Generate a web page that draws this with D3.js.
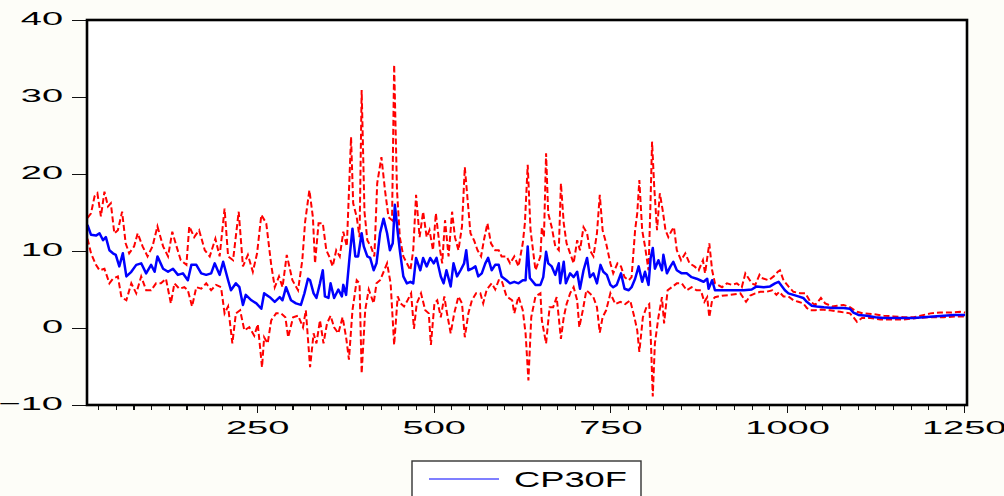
<!DOCTYPE html>
<html>
  <head>
    <meta charset="utf-8">
    <script src="https://d3js.org/d3.v7.min.js"></script>
    <style>
      body { margin: 0; background: #fdfdf8; }
      svg { display: block; font-family: "Liberation Sans", Arial, sans-serif; }
      .axis path.domain { display: none; }
      .axis line { stroke: #111; stroke-width: 1.2; shape-rendering: crispEdges; }
    </style>
  </head>
  <body>
    <script>
      // forecast CP30F and its upper / lower bands, [observation, value]
      var forecast = [[10,13.4],[15,12.1],[22,12.0],[27,12.3],[32,11.4],[36,11.8],[41,10.1],[46,9.7],[50,9.5],[55,8.0],[60,9.7],[65,6.7],[72,7.3],[79,8.2],[86,8.4],[93,7.1],[100,8.2],[105,7.3],[109,9.3],[117,7.7],[124,7.3],[131,7.7],[138,6.9],[145,7.1],[152,6.2],[157,8.2],[164,8.2],[171,7.1],[178,6.9],[185,7.1],[190,8.4],[197,6.9],[202,8.6],[209,6.2],[213,4.9],[220,5.8],[225,5.3],[230,3.0],[234,4.3],[242,3.6],[249,3.2],[256,2.5],[260,4.5],[268,4.0],[275,3.4],[282,4.0],[286,3.6],[291,5.3],[298,3.6],[305,3.2],[312,3.0],[317,4.5],[322,6.4],
        [325,6.2],[330,4.5],[334,3.9],[339,5.8],[343,7.5],[346,4.1],[351,3.9],[354,5.8],[359,3.9],[365,5.0],[370,4.1],[372,5.6],[376,4.3],[381,9.3],[385,12.9],[389,9.3],[393,9.3],[398,12.3],[401,10.6],[406,9.3],[410,9.1],[415,7.5],[419,8.4],[424,12.3],[429,14.2],[434,12.3],[438,10.1],[442,11.0],[445,16.0],[449,12.5],[452,10.1],[457,6.7],[462,5.8],[467,6.0],[471,5.8],[475,9.1],[481,7.5],[485,9.1],[490,8.0],[495,9.1],[500,8.4],[504,9.1],[510,6.7],[514,5.8],[518,7.5],[524,5.4],[528,8.4],[533,6.7],[538,7.5],[543,8.4],[546,10.1],[549,7.5],[554,7.7],[559,8.0],[563,6.7],[568,7.1],[573,8.4],[577,9.1],[582,7.5],[587,8.2],[592,8.2],[596,6.7],[603,6.2],[608,5.8],[614,6.0],[620,5.8],[626,6.2],[630,6.2],[633,10.6],[636,6.5],[644,5.6],[651,5.6],
        [655,6.6],[659,9.9],[662,8.4],[667,8.0],[672,6.9],[677,8.4],[679,5.8],[684,8.6],[687,5.8],[693,7.1],[698,6.6],[703,7.3],[707,5.1],[712,7.5],[717,9.1],[721,6.6],[726,7.1],[731,5.8],[736,8.2],[740,7.3],[745,6.9],[750,5.6],[754,5.3],[759,5.6],[765,7.1],[770,5.1],[776,4.9],[780,5.3],[785,6.4],[790,8.0],[795,6.0],[799,7.3],[804,5.6],[807,9.1],[810,10.4],[813,7.7],[818,8.8],[823,7.5],[825,9.5],[830,7.1],[835,8.0],[839,8.6],[844,7.5],[851,7.1],[858,7.1],[865,6.6],[872,6.4],[877,6.2],[882,6.0],[887,6.4],[889,5.1],[894,6.2],[898,4.9],[910,4.9],[924,4.9],[939,4.9],[950,5.0],
        [957,5.4],[967,5.3],[976,5.4],[983,5.8],[988,6.0],[993,5.4],[997,4.9],[1002,4.5],[1009,4.3],[1016,4.1],[1023,3.9],[1028,3.4],[1035,2.9],[1042,2.8],[1052,2.7],[1066,2.6],[1080,2.6],[1089,2.5],[1094,2.0],[1101,1.7],[1113,1.6],[1125,1.4],[1137,1.3],[1151,1.3],[1165,1.3],[1179,1.3],[1193,1.4],[1207,1.5],[1222,1.6],[1236,1.7],[1252,1.7]];

      var upperBand = [[10,14.3],[15,14.9],[20,17.1],[24,17.5],[29,14.5],[34,17.7],[39,15.8],[43,16.2],[48,12.3],[53,12.7],[59,15.1],[64,11.0],[69,9.7],[76,10.6],[81,12.3],[88,10.6],[95,9.3],[102,10.6],[109,13.2],[117,10.6],[124,9.3],[130,12.5],[136,10.6],[142,8.8],[150,8.2],[154,13.2],[161,11.8],[168,12.7],[176,10.1],[183,9.3],[191,11.6],[197,9.3],[204,15.5],[209,9.3],[216,8.8],[224,15.1],[230,8.0],[237,9.5],[244,7.3],[250,9.7],[256,14.7],[263,13.6],[270,8.2],[275,5.3],[281,6.7],[286,5.3],[292,9.5],[300,6.2],[308,4.9],[314,8.8],[318,13.8],[324,17.9],
        [329,14.4],[332,8.4],[337,13.6],[343,13.6],[348,10.1],[352,9.3],[357,8.0],[362,10.1],[367,9.3],[372,12.5],[377,10.6],[383,24.8],[386,16.2],[391,14.4],[395,11.8],[398,30.9],[402,15.1],[406,11.4],[411,10.6],[416,9.3],[420,18.8],[426,22.2],[431,17.9],[436,14.4],[441,14.0],[444,34.2],[448,17.9],[452,11.8],[457,9.3],[462,8.4],[467,7.5],[471,10.1],[475,17.3],[480,11.8],[485,15.1],[490,11.8],[494,12.7],[499,10.1],[503,14.9],[509,10.1],[512,8.4],[516,14.0],[521,9.3],[526,15.1],[530,11.8],[535,10.1],[540,13.2],[544,20.9],[548,16.6],[552,12.3],[557,11.4],[562,10.1],[567,9.3],[571,11.4],[576,13.6],[581,11.0],[587,10.1],[592,10.1],[596,9.3],[603,9.3],[608,8.4],[614,9.3],[620,8.0],[626,11.0],[629,13.6],[633,21.2],[637,12.7],[644,7.5],[651,9.3],
        [653,13.1],[656,11.8],[659,22.7],[662,14.9],[667,13.1],[672,10.6],[677,10.1],[680,18.8],[684,13.6],[688,11.0],[693,9.7],[698,8.4],[703,11.4],[707,10.1],[712,13.1],[717,12.3],[721,10.1],[726,9.3],[731,12.3],[735,17.3],[739,12.7],[744,11.0],[750,8.4],[754,7.1],[760,8.4],[765,8.0],[770,6.6],[776,6.2],[780,6.6],[785,12.7],[788,14.9],[791,19.2],[795,12.7],[799,10.6],[804,7.5],[807,17.0],[809,24.2],[812,18.4],[816,12.7],[820,17.5],[824,15.3],[828,12.7],[832,11.8],[837,12.7],[840,13.1],[844,10.1],[850,8.8],[856,9.7],[862,8.4],[869,8.0],[875,7.5],[881,8.8],[884,7.1],[890,11.0],[894,7.5],[898,5.8],[908,5.3],[915,5.8],[922,5.6],[929,5.8],[936,5.3],[941,7.1],[946,6.4],[950,5.8],[955,5.6],[961,6.9],
        [964,6.5],[974,6.2],[981,6.7],[987,7.3],[990,7.5],[995,6.2],[1002,5.4],[1009,4.7],[1019,4.5],[1026,4.5],[1033,3.4],[1040,3.0],[1048,3.9],[1054,3.2],[1064,2.8],[1071,2.9],[1080,3.0],[1089,2.7],[1099,2.1],[1108,1.9],[1122,1.8],[1137,1.6],[1151,1.5],[1165,1.4],[1179,1.4],[1189,1.6],[1203,1.9],[1217,2.0],[1231,2.0],[1245,2.1],[1252,2.0]];

      var lowerBand = [[10,11.6],[15,9.7],[22,8.2],[27,7.5],[34,7.7],[41,5.8],[46,6.4],[53,6.7],[58,4.0],[65,3.6],[72,5.8],[79,4.5],[86,6.7],[93,4.9],[100,4.9],[107,5.8],[114,5.8],[121,6.4],[128,3.2],[133,5.8],[140,5.1],[147,5.3],[152,4.9],[158,2.8],[164,5.3],[171,5.1],[178,5.8],[185,4.9],[192,5.6],[199,5.3],[204,1.9],[209,2.8],[215,-2.0],[220,1.9],[226,2.3],[232,-0.3],[239,0.1],[246,-1.0],[251,0.5],[257,-5.1],[260,-1.2],[265,-2.0],[270,1.0],[277,1.9],[284,1.9],[290,1.4],[294,-1.2],[301,1.4],[308,1.6],[315,0.1],[319,2.3],[325,-5.1],
        [330,-0.7],[334,-2.0],[339,1.0],[344,-2.0],[349,0.6],[354,1.6],[359,0.1],[365,-0.7],[371,1.4],[376,-1.2],[380,-4.1],[385,2.3],[391,6.2],[395,5.8],[398,-5.9],[403,2.3],[408,5.0],[415,3.2],[419,5.8],[424,6.2],[430,7.5],[434,8.4],[439,5.8],[444,-2.2],[449,4.1],[453,3.2],[458,2.8],[463,3.6],[468,4.5],[472,-0.1],[476,3.2],[482,4.5],[488,2.3],[493,1.9],[496,-2.2],[501,3.2],[505,3.6],[510,1.4],[515,4.1],[518,2.3],[524,-0.7],[529,1.9],[535,4.1],[540,3.2],[544,-1.2],[549,1.9],[554,3.6],[560,4.5],[566,4.5],[570,3.2],[575,5.0],[582,5.8],[587,5.0],[592,6.2],[596,6.2],[603,4.1],[611,3.6],[614,1.9],[620,4.1],[626,2.3],[630,-0.7],[634,-6.8],[638,1.4],[644,4.1],[651,4.5],
        [653,1.0],[659,-2.0],[664,2.7],[669,2.7],[674,4.0],[680,-1.4],[684,1.4],[688,3.1],[693,4.5],[698,5.3],[703,3.6],[706,0.1],[711,2.3],[716,4.9],[721,4.5],[726,4.0],[731,2.7],[735,-0.6],[739,1.4],[744,2.3],[750,4.5],[757,3.1],[764,3.4],[771,3.1],[778,3.6],[784,1.4],[788,-0.3],[791,-3.1],[796,1.4],[801,2.7],[805,3.1],[807,-0.8],[810,-8.9],[813,-2.0],[818,1.4],[823,4.0],[826,0.6],[831,4.9],[837,5.3],[844,5.8],[851,5.8],[858,4.9],[865,5.3],[872,4.9],[878,4.9],[883,3.4],[887,4.0],[890,1.4],[894,3.6],[898,4.0],[908,4.2],[920,4.3],[934,4.5],[942,3.4],[948,4.2],[955,4.5],[962,4.7],
        [971,4.7],[979,4.9],[985,4.3],[989,4.7],[995,4.1],[1002,4.1],[1009,3.6],[1016,3.4],[1023,3.2],[1028,2.6],[1033,2.3],[1040,2.3],[1049,2.4],[1061,2.3],[1075,2.1],[1089,1.9],[1094,1.4],[1099,0.8],[1106,1.3],[1118,1.3],[1132,1.1],[1146,1.1],[1165,1.1],[1184,1.3],[1203,1.4],[1222,1.4],[1240,1.5],[1252,1.5]];

      var yTicks = [-10, 0, 10, 20, 30, 40];
      var xLabelTicks = [250, 500, 750, 1000, 1250];
      var xMinorTicks = d3.range(25, 1251, 25);
      var legendLabel = "CP30F";

      var W = 1004, H = 496;
      var margin = {top: 20, right: 37, bottom: 91, left: 87},
          width = W - margin.left - margin.right,
          height = H - margin.top - margin.bottom;

      var x = d3.scaleLinear().domain([9.3, 1254.7]).range([0, width]);
      var y = d3.scaleLinear().domain([-10, 40]).range([height, 0]);

      var svg = d3.select("body").append("svg")
          .attr("width", W)
          .attr("height", H);

      svg.append("defs").append("clipPath").attr("id", "plotclip")
        .append("rect").attr("width", width).attr("height", height);

      var g = svg.append("g")
          .attr("transform", "translate(" + margin.left + "," + margin.top + ")");

      g.append("rect")
          .attr("width", width).attr("height", height)
          .attr("fill", "#fff");

      var line = d3.line()
          .x(function(d) { return x(d[0]); })
          .y(function(d) { return y(d[1]); });

      var plot = g.append("g").attr("clip-path", "url(#plotclip)");

      [upperBand, lowerBand].forEach(function(band) {
        plot.append("path")
            .datum(band)
            .attr("fill", "none")
            .attr("stroke", "#ff0000")
            .attr("stroke-width", 2)
            .attr("stroke-dasharray", "6,3")
            .attr("d", line);
      });

      plot.append("path")
          .datum(forecast)
          .attr("fill", "none")
          .attr("stroke", "#0000ff")
          .attr("stroke-width", 2.5)
          .attr("stroke-linejoin", "round")
          .attr("d", line);

      // y axis, outward ticks and wide labels
      var yAxis = g.append("g").attr("class", "axis")
          .call(d3.axisLeft(y).tickValues(yTicks).tickSize(15).tickFormat(d3.format("d")));
      yAxis.selectAll("text")
          .attr("fill", "#000")
          .style("font-size", "19px")
          .attr("x", -12)
          .attr("dy", "0.25em")
          .attr("transform", "scale(2,1)");

      // x axis: minor ticks every 25, labelled ticks every 250
      g.append("g").attr("class", "axis")
          .attr("transform", "translate(0," + height + ")")
          .call(d3.axisBottom(x).tickValues(xMinorTicks).tickSize(5).tickFormat(""));
      var xAxis = g.append("g").attr("class", "axis")
          .attr("transform", "translate(0," + height + ")")
          .call(d3.axisBottom(x).tickValues(xLabelTicks).tickSize(8).tickFormat(d3.format("d")));
      xAxis.selectAll("text")
          .attr("fill", "#000")
          .style("font-size", "19px")
          .attr("y", 16)
          .attr("transform", "scale(2,1)");

      // frame
      g.append("rect")
          .attr("width", width).attr("height", height)
          .attr("fill", "none")
          .attr("stroke", "#000")
          .attr("stroke-width", 2.6);

      // legend (box runs off the bottom edge)
      var lg = svg.append("g").attr("transform", "translate(412,461)");
      lg.append("rect")
          .attr("width", 229).attr("height", 60)
          .attr("fill", "#fff")
          .attr("stroke", "#333")
          .attr("stroke-width", 1.4);
      lg.append("line")
          .attr("x1", 17).attr("x2", 87)
          .attr("y1", 18).attr("y2", 18)
          .attr("stroke", "#0000ff")
          .attr("stroke-width", 1.2);
      lg.append("text")
          .attr("transform", "translate(102,26) scale(1.65,1)")
          .style("font-size", "22px")
          .attr("fill", "#000")
          .text(legendLabel);
    </script>
  </body>
</html>
